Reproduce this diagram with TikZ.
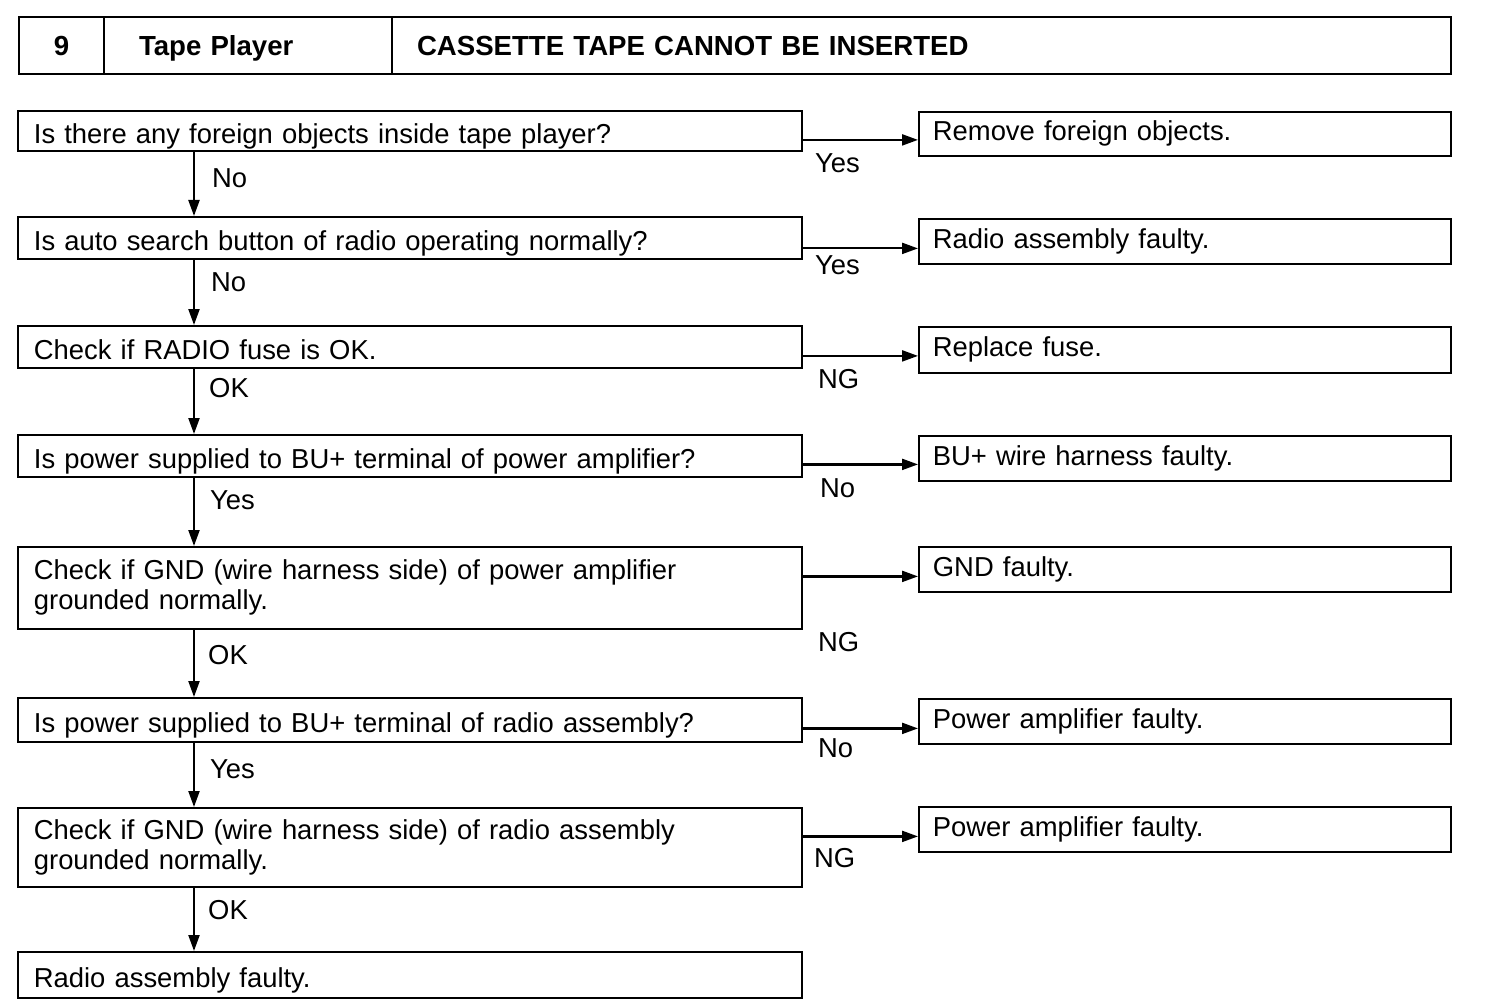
\documentclass[tikz,border=0pt]{standalone}
\usepackage{fontspec}
\setmainfont{Liberation Sans}
\usetikzlibrary{arrows.meta,positioning}
\begin{document}
\begin{tikzpicture}[
   x=1pt, y=-1pt,
   font=\fontsize{27.4}{30}\selectfont,
   box/.style={draw, line width=1.8pt, anchor=north west, align=left, inner ysep=4pt},
   qbox/.style={box, text width=752pt, inner xsep=16pt},
   abox/.style={box, text width=504pt, inner xsep=14pt},
   oneline/.style={text height=25pt, text depth=0pt},
   head/.style={draw, line width=2pt, anchor=north west, minimum height=57pt, inner xsep=0pt, text height=21pt, text depth=0pt, font=\fontsize{27.6}{30}\selectfont\bfseries},
   lbl/.style={anchor=west, inner sep=0pt},
   ar/.style={-{Triangle[length=16pt,width=11pt]}, line width=2.2pt}
]
\useasboundingbox (0,0) rectangle (1504,1008);
\node[head, text width=85pt, align=center] (hnum) at (18,16) {9};
\node[head, text width=288pt, align=left] (hsys) at (103,16) {\hspace*{35pt}Tape Player};
\node[head, text width=1059pt, align=left] (htitle) at (391,16) {\hspace*{25pt}CASSETTE TAPE CANNOT BE INSERTED};

\node[qbox, oneline, minimum height=40pt] (q1) at (17,110) {Is there any foreign objects inside tape player?};
\node[qbox, oneline, minimum height=42pt] (q2) at (17,216) {Is auto search button of radio operating normally?};
\node[qbox, oneline, minimum height=42pt] (q3) at (17,325) {Check if RADIO fuse is OK.};
\node[qbox, oneline, minimum height=42pt] (q4) at (17,434) {Is power supplied to BU+ terminal of power amplifier?};
\node[qbox, minimum height=82pt] (q5) at (17,546) {Check if GND (wire harness side) of power amplifier\\grounded normally.};
\node[qbox, oneline, minimum height=44pt] (q6) at (17,697) {Is power supplied to BU+ terminal of radio assembly?};
\node[qbox, minimum height=79pt] (q7) at (17,807) {Check if GND (wire harness side) of radio assembly\\grounded normally.};
\node[qbox, oneline, minimum height=46pt] (q8) at (17,951) {Radio assembly faulty.};

\node[abox, minimum height=44pt] (r1) at (918,111) {Remove foreign objects.};
\node[abox, minimum height=45pt] (r2) at (918,218) {Radio assembly faulty.};
\node[abox, minimum height=46pt] (r3) at (918,326) {Replace fuse.};
\node[abox, minimum height=45pt] (r4) at (918,435) {BU+ wire harness faulty.};
\node[abox, minimum height=45pt] (r5) at (918,546) {GND faulty.};
\node[abox, minimum height=45pt] (r6) at (918,698) {Power amplifier faulty.};
\node[abox, minimum height=45pt] (r7) at (918,806) {Power amplifier faulty.};

\coordinate (spine) at (194,0);
\draw[ar] (q1.south -| spine) -- (q2.north -| spine);
\draw[ar] (q2.south -| spine) -- (q3.north -| spine);
\draw[ar] (q3.south -| spine) -- (q4.north -| spine);
\draw[ar] (q4.south -| spine) -- (q5.north -| spine);
\draw[ar] (q5.south -| spine) -- (q6.north -| spine);
\draw[ar] (q6.south -| spine) -- (q7.north -| spine);
\draw[ar] (q7.south -| spine) -- (q8.north -| spine);

\node[lbl] (d1) at (212,178) {No};
\node[lbl] (d2) at (211,282) {No};
\node[lbl] (d3) at (209,388) {OK};
\node[lbl] (d4) at (210,500) {Yes};
\node[lbl] (d5) at (208,655) {OK};
\node[lbl] (d6) at (210,769) {Yes};
\node[lbl] (d7) at (208,910) {OK};

\draw[ar] ([yshift=-6pt]r1.west -| q1.east) -- ([yshift=-6pt]r1.west);
\draw[ar] ([yshift=-7pt]r2.west -| q2.east) -- ([yshift=-7pt]r2.west);
\draw[ar] ([yshift=-6pt]r3.west -| q3.east) -- ([yshift=-6pt]r3.west);
\draw[ar] ([yshift=-6pt]r4.west -| q4.east) -- ([yshift=-6pt]r4.west);
\draw[ar] ([yshift=-7pt]r5.west -| q5.east) -- ([yshift=-7pt]r5.west);
\draw[ar] ([yshift=-7pt]r6.west -| q6.east) -- ([yshift=-7pt]r6.west);
\draw[ar] ([yshift=-7pt]r7.west -| q7.east) -- ([yshift=-7pt]r7.west);

\node[lbl] (s1) at (815,163) {Yes};
\node[lbl] (s2) at (815,265) {Yes};
\node[lbl] (s3) at (818,379) {NG};
\node[lbl] (s4) at (820,488) {No};
\node[lbl] (s5) at (818,642) {NG};
\node[lbl] (s6) at (818,748) {No};
\node[lbl] (s7) at (814,858) {NG};
\end{tikzpicture}
\end{document}
